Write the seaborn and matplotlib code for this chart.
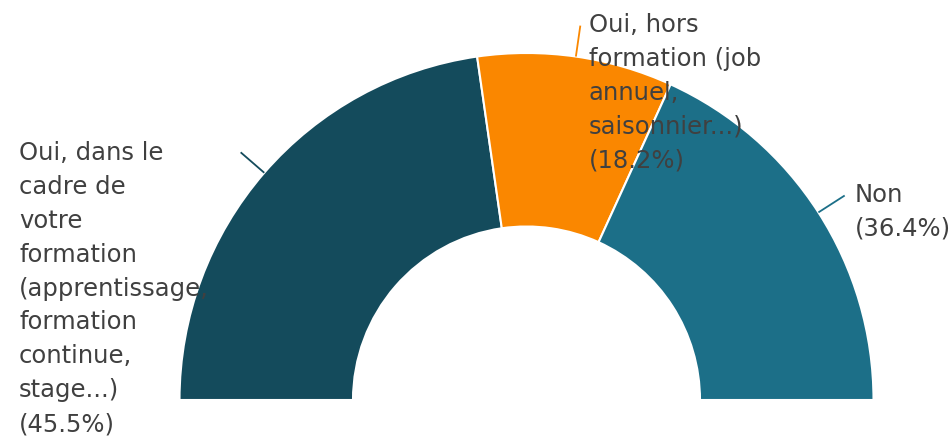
import numpy as np
import matplotlib
matplotlib.use("Agg")
import matplotlib.pyplot as plt
import seaborn as sns

categories = ["Oui, dans le\ncadre de\nvotre\nformation\n(apprentissage,\nformation\ncontinue,\nstage...)",
              "Oui, hors\nformation (job\nannuel,\nsaisonnier...)",
              "Non"]
values = [45.5, 18.2, 36.4]
colors = ["#144b5c", "#fa8700", "#1c6f88"]

sns.set_theme(style="white")
plt.rcParams['font.family'] = ['DejaVu Sans']

W, H = 953, 441
fig = plt.figure(figsize=(W / 100, H / 100), dpi=100)
ax = fig.add_axes([0, 0, 1, 1])

cx, cy, R = 526.5, 441 - 400, 347.0

total = sum(values)
wedges, _ = ax.pie(values + [total], startangle=180, counterclock=False,
                   colors=colors + ["none"], radius=1.0,
                   wedgeprops=dict(width=0.5, edgecolor="white", linewidth=1.5))
wedges[-1].set_edgecolor("none")

# leader lines and labels
text_pos = [(19, 141), (589, 13), (855, 183)]  # pixel top-left of label blocks
ang = 180.0
for i, (lab, v, c) in enumerate(zip(categories, values, colors)):
    span = 180.0 * v / total
    mid = np.deg2rad(ang - span / 2)
    ang -= span
    x0, y0 = np.cos(mid), np.sin(mid)
    x1, y1 = 1.09 * np.cos(mid), 1.09 * np.sin(mid)
    ax.plot([x0, x1], [y0, y1], color=c, lw=1.3, solid_capstyle="butt")
    px, py = text_pos[i]
    ax.text((px - cx) / R, (H - py - cy) / R, f"{lab}\n({v}%)", ha="left", va="top",
            fontsize=17.5, color="#404040", linespacing=1.52)

ax.set_xlim(-cx / R, (W - cx) / R)
ax.set_ylim(-cy / R, (H - cy) / R)
ax.set_aspect("equal")
ax.axis("off")

fig.savefig("out.png", dpi=100)
